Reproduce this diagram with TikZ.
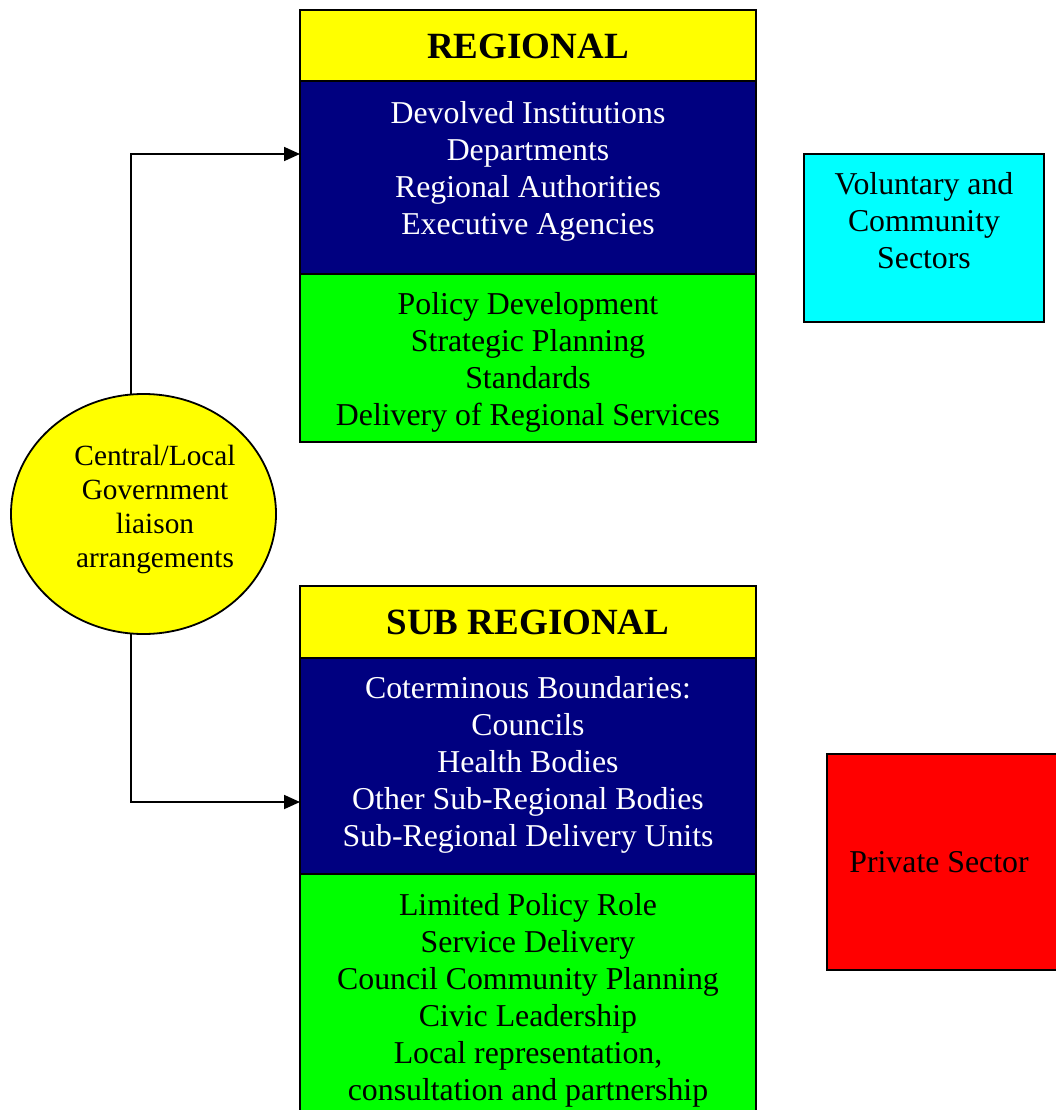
\documentclass[tikz,border=0pt]{standalone}
\usepackage{fontspec}
\setmainfont{Liberation Serif}
\usetikzlibrary{arrows.meta}
\definecolor{cnavy}{RGB}{0,0,128}
\definecolor{cyel}{RGB}{255,255,0}
\definecolor{cgreen}{RGB}{0,255,0}
\definecolor{ccyan}{RGB}{0,255,255}
\definecolor{cred}{RGB}{255,0,0}
\tikzset{
  panel/.style={draw=black, line width=1.8pt, anchor=north west, inner sep=0pt, outer sep=0pt},
  body/.style={align=center, inner sep=0pt, font=\fontsize{31.8}{37}\selectfont},
  title/.style={align=center, inner sep=0pt, font=\fontsize{37}{44}\selectfont\bfseries},
  conn/.style={line width=1.8pt, -{Triangle[length=16pt,width=14pt]}}
}
\begin{document}
\begin{tikzpicture}[x=1pt,y=-1pt]
\useasboundingbox (0,0) rectangle (1056,1110);
\clip (0,0) rectangle (1056,1110);
% Regional
\node[panel, fill=cyel, minimum width=456pt, minimum height=71pt] (regT) at (300,10) {};
\node[panel, fill=cnavy, minimum width=456pt, minimum height=193pt] (regB) at (300,81) {};
\node[panel, fill=cgreen, minimum width=456pt, minimum height=168pt] (regG) at (300,274) {};
\node[title] (regTt) at (528,46) {REGIONAL};
\node[body, text=white] (regBt) at (528,171) {Devolved Institutions\\Departments\\Regional Authorities\\Executive Agencies};
\node[body] (regGt) at (528,362) {Policy Development\\Strategic Planning\\Standards\\Delivery of Regional Services};
% Sub regional
\node[panel, fill=cyel, minimum width=456pt, minimum height=72pt] (subT) at (300,586) {};
\node[panel, fill=cnavy, minimum width=456pt, minimum height=216pt] (subB) at (300,658) {};
\node[panel, fill=cgreen, minimum width=456pt, minimum height=260pt] (subG) at (300,874) {};
\node[title] (subTt) at (528,622) {SUB REGIONAL};
\node[body, text=white] (subBt) at (528,765) {Coterminous Boundaries:\\Councils\\Health Bodies\\Other Sub-Regional Bodies\\Sub-Regional Delivery Units};
\node[body] (subGt) at (528,1000) {Limited Policy Role\\Service Delivery\\Council Community Planning\\Civic Leadership\\Local representation,\\consultation and partnership};
% Voluntary
\node[panel, fill=ccyan, minimum width=240pt, minimum height=168pt] (vol) at (804,154) {};
\node[body] (volt) at (924,221) {Voluntary and\\Community\\Sectors};
% Private
\node[panel, fill=cred, minimum width=240pt, minimum height=216pt] (priv) at (827,754) {};
\node[body] (privt) at (939,862) {Private Sector};
% Ellipse
\draw[line width=1.8pt, fill=cyel] (143.5,514) ellipse [x radius=132.5, y radius=120];
\coordinate (ell) at (143.5,514);
\node[align=center, inner sep=0pt, font=\fontsize{29.3}{34}\selectfont] (ellt) at (155,509) {Central/Local\\Government\\liaison\\arrangements};
\coordinate (eTop) at (131,394.5);
\coordinate (eBot) at (131,633.5);
\draw[conn] (eTop) |- (regB.west |- 0,154);
\draw[conn] (eBot) |- (subB.west |- 0,802);
\end{tikzpicture}
\end{document}
